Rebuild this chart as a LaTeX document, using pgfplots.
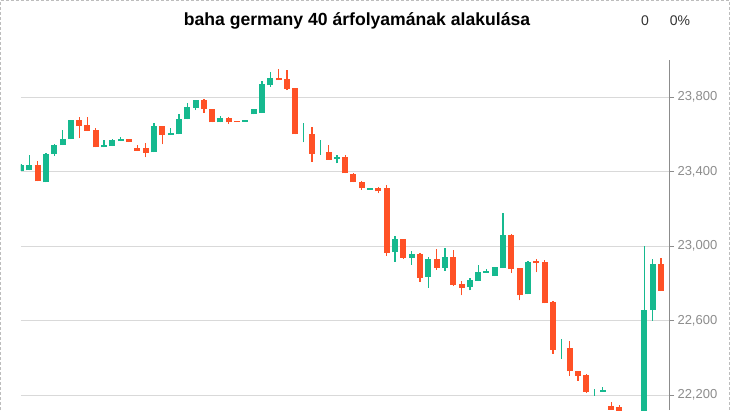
\documentclass[border=0pt]{standalone}
\usepackage{fontspec}
\setmainfont{Liberation Sans}
\usepackage{pgfplots}
\usepackage{pgfplotstable}
\pgfplotsset{compat=1.18}
\definecolor{cgreen}{HTML}{16B98F}
\definecolor{cred}{HTML}{FF5126}
\definecolor{gridc}{HTML}{D9D9D9}
\definecolor{axc}{HTML}{8C8C8C}
\definecolor{tickc}{HTML}{8C8C8C}
\definecolor{borderc}{HTML}{BDBDBD}

% rising candles: index, open, high, low, close
\pgfplotstableread{
i o h l c
1 23401 23443 23401 23438
2 23407 23487 23407 23438
4 23342 23501 23342 23497
5 23496 23546 23483 23541
6 23542 23622 23542 23578
7 23575 23676 23575 23676
11 23531 23568 23531 23541
12 23537 23575 23537 23568
13 23564 23584 23564 23573
17 23504 23659 23504 23643
19 23596 23636 23596 23605
20 23600 23708 23600 23681
21 23681 23768 23681 23746
22 23741 23784 23731 23784
25 23665 23697 23665 23686
28 23667 23676 23667 23676
29 23708 23735 23708 23735
30 23714 23886 23714 23870
31 23865 23935 23856 23903
35 23608 23659 23557 23608
37 23530 23568 23492 23530
39 23470 23487 23445 23481
43 23304 23314 23304 23314
46 22969 23054 22915 23038
48 22937 22973 22899 22957
50 22834 22941 22775 22930
52 22883 22989 22867 22941
55 22778 22827 22762 22816
56 22812 22897 22812 22859
57 22856 22876 22856 22865
58 22838 22887 22838 22887
59 22881 23178 22881 23059
62 22741 22919 22741 22914
66 22440 22503 22395 22440
70 22213 22232 22195 22213
71 22216 22240 22216 22227
76 21960 23000 21940 22659
77 22656 22930 22600 22903
}\up

% falling candles: index, open, high, low, close
\pgfplotstableread{
i o h l c
3 23438 23459 23348 23348
8 23676 23696 23580 23645
9 23649 23696 23618 23618
10 23622 23636 23531 23531
14 23573 23573 23558 23558
15 23528 23541 23510 23510
16 23528 23555 23477 23501
18 23643 23643 23546 23596
23 23784 23789 23714 23735
24 23735 23735 23665 23665
26 23686 23692 23656 23665
27 23671 23671 23666 23666
32 23903 23951 23892 23892
33 23897 23946 23838 23843
34 23849 23849 23600 23600
36 23600 23638 23454 23497
38 23508 23541 23508 23465
40 23481 23492 23391 23391
41 23389 23395 23342 23342
42 23346 23351 23304 23310
44 23314 23319 23283 23294
45 23314 23330 22948 22964
47 23038 23038 22931 22937
49 22957 22962 22807 22829
51 22930 22984 22872 22883
53 22941 22978 22785 22791
54 22795 22811 22735 22775
60 23059 23065 22854 22876
61 22881 22881 22708 22735
63 22919 22930 22859 22908
64 22914 22924 22692 22692
65 22697 22703 22422 22443
67 22454 22492 22304 22326
68 22330 22330 22277 22304
69 22308 22314 22211 22216
72 22142 22164 22121 22121
73 22137 22148 22090 22095
74 22060 22080 21990 22010
75 22000 22050 21930 21960
78 22903 22935 22758 22758
}\down

\begin{document}
\begin{tikzpicture}[x=1pt,y=1pt]
\useasboundingbox (0,0) rectangle (730,410);
\draw[borderc, dash pattern=on 3pt off 2pt, line width=0.8pt] (0.5,0) -- (0.5,409.5) -- (729.5,409.5) -- (729.5,0);
\node[font=\bfseries\fontsize{17.6}{21}\selectfont, text=black] at (357,389.5) {baha germany 40 árfolyamának alakulása};
\node[font=\fontsize{14}{17}\selectfont, text=black!80] at (645,389.5) {0};
\node[font=\fontsize{14}{17}\selectfont, text=black!80] at (680,389.5) {0\%};
\begin{axis}[
  at={(21pt,0pt)}, anchor=south west,
  scale only axis, width=648pt, height=350pt,
  xmin=1, xmax=78.96, ymin=22119, ymax=24000,
  axis x line=none,
  axis y line*=right,
  y axis line style={draw=axc, line width=1pt, -},
  ytick={22200,22600,23000,23400,23800},
  scaled y ticks=false,
  ytick pos=right, yticklabel pos=right,
  tick align=outside, major tick length=5pt,
  tick style={draw=axc, line width=0.8pt},
  ymajorgrids, grid style={draw=gridc, line width=0.8pt},
  yticklabel style={font=\fontsize{13}{15}\selectfont, text=tickc, anchor=west,
    /pgf/number format/fixed, /pgf/number format/precision=0,
    /pgf/number format/1000 sep={,}},
  /pgf/number format/assume math mode=true,
]
% wicks
\addplot[draw=none, mark=none, forget plot,
  error bars/.cd, y dir=plus, y explicit, error mark=none,
  error bar style={draw=cgreen, line width=1.3pt}]
  table[x=i, y=l, y error expr=\thisrow{h}-\thisrow{l}] {\up};
\addplot[draw=none, mark=none, forget plot,
  error bars/.cd, y dir=plus, y explicit, error mark=none,
  error bar style={draw=cred, line width=1.3pt}]
  table[x=i, y=l, y error expr=\thisrow{h}-\thisrow{l}] {\down};
% bodies
\addplot[draw=none, mark=none, forget plot,
  error bars/.cd, y dir=plus, y explicit, error mark=none,
  error bar style={draw=cgreen, line width=6pt, line cap=butt}]
  table[x=i, y=o, y error expr=\thisrow{c}-\thisrow{o}] {\up};
\addplot[draw=none, mark=none, forget plot,
  error bars/.cd, y dir=plus, y explicit, error mark=none,
  error bar style={draw=cred, line width=6pt, line cap=butt}]
  table[x=i, y=c, y error expr=\thisrow{o}-\thisrow{c}] {\down};
\end{axis}
\end{tikzpicture}
\end{document}
